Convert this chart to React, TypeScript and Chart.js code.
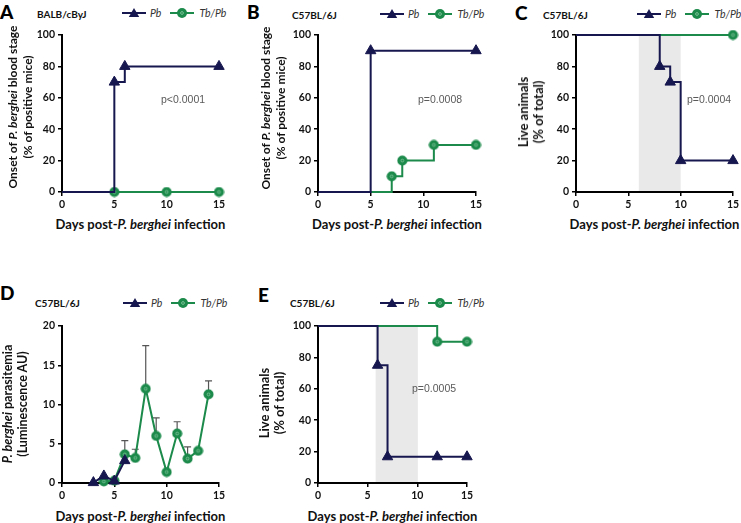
import React, { useEffect, useRef } from 'react';
import { Chart, registerables } from 'chart.js';
Chart.register(...registerables);

const NAVY = '#17174f';
const GREEN = '#1b8a4a';
const FONT = 'Lato, "Open Sans", sans-serif';

// ---- Panel A (BALB/cByJ, onset of blood stage, %)
const aPbDays = [0, 5, 6, 15];
const aPbPct = [0, 70, 80, 80];
const aPbShow = [0, 1, 1, 1];
const aTbDays = [0, 5, 10, 15];
const aTbPct = [0, 0, 0, 0];
const aTbShow = [0, 1, 1, 1];

// ---- Panel B (C57BL/6J, onset of blood stage, %)
const bPbDays = [0, 5, 15];
const bPbPct = [0, 90, 90];
const bPbShow = [0, 1, 1];
const bTbDays = [0, 7, 8, 11, 15];
const bTbPct = [0, 10, 20, 30, 30];
const bTbShow = [0, 1, 1, 1, 1];

// ---- Panel C (C57BL/6J, survival %)
const cPbDays = [0, 8, 9, 10, 15];
const cPbPct = [100, 80, 70, 20, 20];
const cPbShow = [0, 1, 1, 1, 1];
const cTbDays = [0, 15];
const cTbPct = [100, 100];
const cTbShow = [0, 1];
const cShade = [6, 10];

// ---- Panel D (C57BL/6J, parasitemia, luminescence AU)
const dPbDays = [3, 4, 5, 6];
const dPbLum = [0.05, 0.9, 0.25, 2.85];
const dPbShow = [1, 1, 1, 1];
const dTbDays = [4, 5, 6, 7, 8, 9, 10, 11, 12, 13, 14];
const dTbLum = [0.2, 0.3, 3.65, 3.2, 12.0, 6.0, 1.4, 6.3, 3.1, 4.1, 11.3];
const dTbUpper: (number | null)[] = [null, null, 5.4, 4.3, 17.5, 8.3, null, 7.8, 4.6, null, 13.0];
const dTbShow = [1, 1, 1, 1, 1, 1, 1, 1, 1, 1, 1];

// ---- Panel E (C57BL/6J, survival %)
const ePbDays = [0, 6, 7, 12, 15];
const ePbPct = [100, 75, 16.7, 16.7, 16.7];
const ePbShow = [0, 1, 1, 1, 1];
const eTbDays = [0, 12, 15];
const eTbPct = [100, 90, 90];
const eTbShow = [0, 1, 1];
const eShade = [5.8, 10.05];

const xTickStep = 5;

type Series = { x: number[]; y: number[]; show: number[]; err?: (number | null)[] };
type PanelDef = {
  L: number; T: number; R: number; B: number;
  yMax: number; yStep: number; stepped: boolean;
  pb: Series; tb: Series; shade?: number[];
};

const Y_AXIS_W = 44;
const X_AXIS_H = 22;
const PAD_T = 12;
const PAD_R = 16;

function makeCircle(): HTMLCanvasElement {
  const c = document.createElement('canvas');
  c.width = 11;
  c.height = 11;
  const g = c.getContext('2d')!;
  g.fillStyle = GREEN;
  g.beginPath();
  g.arc(5.5, 5.5, 5, 0, Math.PI * 2);
  g.fill();
  g.strokeStyle = 'rgba(160,215,180,0.85)';
  g.lineWidth = 0.8;
  g.beginPath();
  g.arc(5.5, 5.5, 1.4, 0, Math.PI * 2);
  g.stroke();
  return c;
}

const shadePlugin = {
  id: 'shade',
  beforeDraw(chart: any, _a: any, opts: any) {
    if (!opts || !opts.range) return;
    const { ctx, chartArea, scales } = chart;
    const x0 = scales.x.getPixelForValue(opts.range[0]);
    const x1 = scales.x.getPixelForValue(opts.range[1]);
    ctx.save();
    ctx.fillStyle = '#e9e9e9';
    ctx.fillRect(x0, chartArea.top, x1 - x0, chartArea.bottom - chartArea.top);
    ctx.restore();
  },
};

const errPlugin = {
  id: 'errbars',
  beforeDatasetsDraw(chart: any) {
    const { ctx, scales } = chart;
    chart.data.datasets.forEach((ds: any) => {
      if (!ds.errUpper) return;
      ctx.save();
      ctx.strokeStyle = '#555';
      ctx.lineWidth = 1.2;
      ds.data.forEach((p: any, i: number) => {
        const e = ds.errUpper[i];
        if (e == null) return;
        const px = scales.x.getPixelForValue(p.x);
        const py = scales.y.getPixelForValue(p.y);
        const pe = scales.y.getPixelForValue(e);
        ctx.beginPath();
        ctx.moveTo(px, py);
        ctx.lineTo(px, pe);
        ctx.moveTo(px - 3.5, pe);
        ctx.lineTo(px + 3.5, pe);
        ctx.stroke();
      });
      ctx.restore();
    });
  },
};

function PanelChart({ def }: { def: PanelDef }) {
  const ref = useRef<HTMLCanvasElement>(null);
  const left = def.L - Y_AXIS_W;
  const top = def.T - PAD_T;
  const width = def.R + PAD_R - left;
  const height = def.B + X_AXIS_H - top;
  useEffect(() => {
    const circle = makeCircle();
    const mk = (s: Series, color: string, style: any, r: number, label: string) => ({
      label,
      data: s.x.map((x, i) => ({ x, y: s.y[i] })),
      borderColor: color,
      backgroundColor: color,
      borderWidth: 2,
      stepped: def.stepped,
      tension: 0,
      pointStyle: style,
      pointRadius: s.show.map((v) => (v ? r : 0)),
      pointHoverRadius: s.show.map((v) => (v ? r : 0)),
      pointBackgroundColor: color,
      pointBorderColor: color,
      pointBorderWidth: 1,
      clip: false,
      errUpper: s.err,
    });
    const tickFont = { family: FONT, size: 10.5, weight: 'bold' as const };
    const chart = new Chart(ref.current!, {
      type: 'line',
      data: {
        datasets: [
          mk(def.pb, NAVY, 'triangle', 6, 'Pb') as any,
          mk(def.tb, GREEN, circle, 5, 'Tb/Pb') as any,
        ],
      },
      options: {
        animation: false,
        responsive: false,
        events: [],
        layout: { padding: { top: PAD_T, right: PAD_R, left: 0, bottom: 0 } },
        plugins: {
          legend: { display: false },
          tooltip: { enabled: false },
          shade: { range: def.shade },
        } as any,
        scales: {
          x: {
            type: 'linear',
            min: 0,
            max: 15,
            ticks: { stepSize: xTickStep, font: tickFont, color: '#111', padding: 2 },
            grid: { drawOnChartArea: false, drawTicks: true, tickLength: 4, color: '#000', lineWidth: 1.5 },
            border: { display: true, color: '#000', width: 2 },
            afterFit: (s: any) => { s.height = X_AXIS_H; },
          },
          y: {
            type: 'linear',
            min: 0,
            max: def.yMax,
            ticks: { stepSize: def.yStep, font: tickFont, color: '#111', padding: 3 },
            grid: { drawOnChartArea: false, drawTicks: true, tickLength: 4, color: '#000', lineWidth: 1.5 },
            border: { display: true, color: '#000', width: 2 },
            afterFit: (s: any) => { s.width = Y_AXIS_W; },
          },
        },
      },
      plugins: [shadePlugin, errPlugin],
    });
    return () => chart.destroy();
  }, []);
  return (
    <canvas
      ref={ref}
      width={width}
      height={height}
      style={{ position: 'absolute', left, top, width, height }}
    />
  );
}

const panels: PanelDef[] = [
  { L: 62, T: 35, R: 219, B: 192, yMax: 100, yStep: 20, stepped: true,
    pb: { x: aPbDays, y: aPbPct, show: aPbShow }, tb: { x: aTbDays, y: aTbPct, show: aTbShow } },
  { L: 318, T: 35, R: 476, B: 192, yMax: 100, yStep: 20, stepped: true,
    pb: { x: bPbDays, y: bPbPct, show: bPbShow }, tb: { x: bTbDays, y: bTbPct, show: bTbShow } },
  { L: 576, T: 35, R: 733, B: 192, yMax: 100, yStep: 20, stepped: true, shade: cShade,
    pb: { x: cPbDays, y: cPbPct, show: cPbShow }, tb: { x: cTbDays, y: cTbPct, show: cTbShow } },
  { L: 62, T: 326, R: 219, B: 483, yMax: 20, yStep: 5, stepped: false,
    pb: { x: dPbDays, y: dPbLum, show: dPbShow }, tb: { x: dTbDays, y: dTbLum, show: dTbShow, err: dTbUpper } },
  { L: 318, T: 326, R: 467, B: 483, yMax: 100, yStep: 20, stepped: true, shade: eShade,
    pb: { x: ePbDays, y: ePbPct, show: ePbShow }, tb: { x: eTbDays, y: eTbPct, show: eTbShow } },
];

const abs = (left: number, cy: number, extra: React.CSSProperties = {}): React.CSSProperties => ({
  position: 'absolute', left, top: cy, transform: 'translateY(-50%)', whiteSpace: 'nowrap', ...extra,
});

function Letter({ ch, x, cy }: { ch: string; x: number; cy: number }) {
  return <div style={abs(x, cy, { fontFamily: FONT, fontWeight: 900, fontSize: 19, lineHeight: '19px', color: '#000' })}>{ch}</div>;
}
function Strain({ t, x, cy }: { t: string; x: number; cy: number }) {
  return <div style={abs(x, cy, { fontFamily: FONT, fontWeight: 700, fontSize: 10, lineHeight: '12px', color: '#111' })}>{t}</div>;
}
function PVal({ t, x, cy }: { t: string; x: number; cy: number }) {
  return <div style={abs(x, cy, { fontFamily: '"Liberation Sans", Arial, sans-serif', fontSize: 10.5, lineHeight: '12px', color: '#5a5a5a' })}>{t}</div>;
}
function Legend({ x, cy }: { x: number; cy: number }) {
  const txt: React.CSSProperties = { fontFamily: FONT, fontStyle: 'italic', fontSize: 10.5, color: '#333' };
  return (
    <div style={abs(x, cy, { display: 'flex', alignItems: 'center', lineHeight: '12px' })}>
      <svg width={24} height={12} style={{ display: 'block' }}>
        <line x1={0} y1={6} x2={24} y2={6} stroke={NAVY} strokeWidth={2} />
        <polygon points="12,1 17.2,10 6.8,10" fill={NAVY} />
      </svg>
      <span style={{ ...txt, marginLeft: 4 }}>Pb</span>
      <svg width={24} height={12} style={{ display: 'block', marginLeft: 9 }}>
        <line x1={0} y1={6} x2={24} y2={6} stroke={GREEN} strokeWidth={2} />
        <circle cx={12} cy={6} r={5} fill={GREEN} />
        <circle cx={12} cy={6} r={1.4} fill="none" stroke="rgba(160,215,180,0.85)" strokeWidth={0.8} />
      </svg>
      <span style={{ ...txt, marginLeft: 5 }}>Tb/Pb</span>
    </div>
  );
}
function XTitle({ cx, cy }: { cx: number; cy: number }) {
  return (
    <div style={{ position: 'absolute', left: cx, top: cy, transform: 'translate(-50%,-50%)', whiteSpace: 'nowrap',
      fontFamily: FONT, fontWeight: 700, fontSize: 13, lineHeight: '15px', color: '#111' }}>
      Days post-<i>P. berghei</i> infection
    </div>
  );
}
function YTitle({ cx, cy, size = 13, children }: { cx: number; cy: number; size?: number; children: React.ReactNode }) {
  return (
    <div style={{ position: 'absolute', left: cx, top: cy, transform: 'translate(-50%,-50%) rotate(-90deg)', whiteSpace: 'nowrap',
      textAlign: 'center', fontFamily: FONT, fontWeight: 700, fontSize: size, lineHeight: '15px', color: '#111' }}>
      {children}
    </div>
  );
}

export default function App() {
  return (
    <div style={{ position: 'absolute', left: 0, top: 0, width: 741, height: 523, overflow: 'hidden', background: '#fff' }}>
      {panels.map((p, i) => <PanelChart key={i} def={p} />)}

      <Letter ch="A" x={0} cy={11} />
      <Letter ch="B" x={247} cy={11} />
      <Letter ch="C" x={515} cy={12} />
      <Letter ch="D" x={0} cy={292} />
      <Letter ch="E" x={258} cy={294} />

      <Strain t="BALB/cByJ" x={37} cy={14} />
      <Strain t="C57BL/6J" x={292} cy={15} />
      <Strain t="C57BL/6J" x={543} cy={15} />
      <Strain t="C57BL/6J" x={35} cy={303} />
      <Strain t="C57BL/6J" x={290} cy={303} />

      <Legend x={122} cy={13} />
      <Legend x={380} cy={14} />
      <Legend x={637} cy={14} />
      <Legend x={123} cy={303} />
      <Legend x={380} cy={303} />

      <PVal t="p<0.0001" x={161} cy={99} />
      <PVal t="p=0.0008" x={418} cy={99} />
      <PVal t="p=0.0004" x={687} cy={99} />
      <PVal t="p=0.0005" x={412} cy={388} />

      <XTitle cx={140.5} cy={224} />
      <XTitle cx={397} cy={224} />
      <XTitle cx={654.5} cy={224} />
      <XTitle cx={140.5} cy={516} />
      <XTitle cx={392.5} cy={516} />

      <YTitle cx={19.5} cy={107} size={12}>Onset of <i>P. berghei</i> blood stage<br />(% of positive mice)</YTitle>
      <YTitle cx={273} cy={108} size={12}>Onset of <i>P. berghei</i> blood stage<br />(% of positive mice)</YTitle>
      <YTitle cx={530.5} cy={112}>Live animals<br />(% of total)</YTitle>
      <YTitle cx={15} cy={404} size={12.5}><i>P. berghei</i> parasitemia<br />(Luminescence AU)</YTitle>
      <YTitle cx={271.5} cy={403}>Live animals<br />(% of total)</YTitle>
    </div>
  );
}
